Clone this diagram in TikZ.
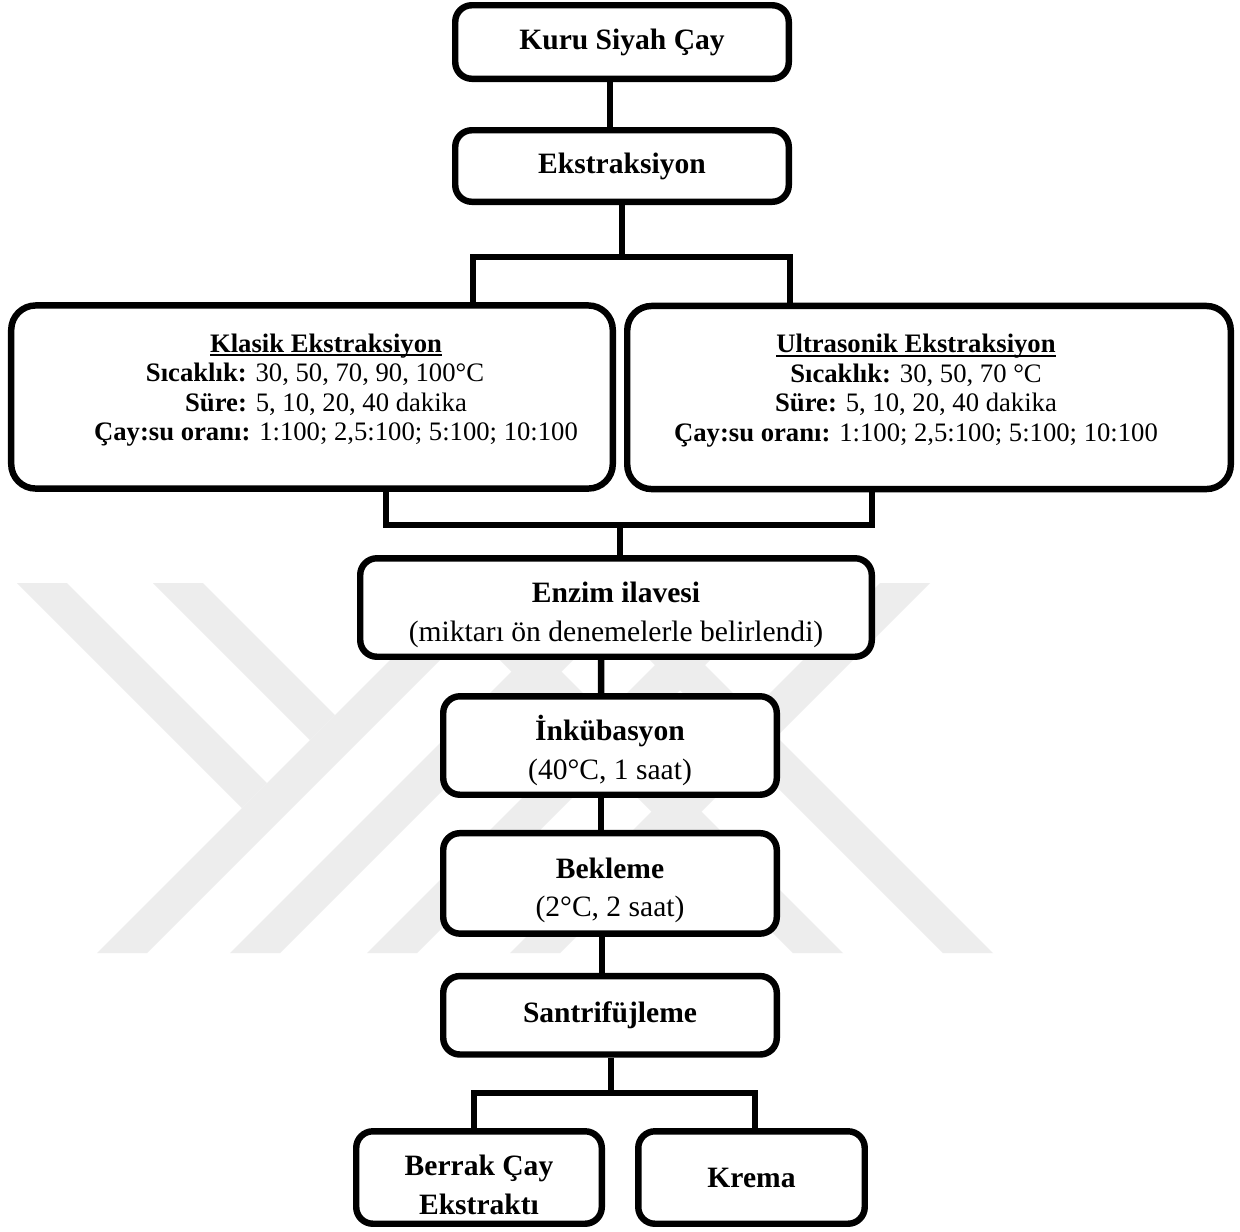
\documentclass[tikz,border=0pt]{standalone}
\usepackage{fontspec}
\setmainfont{Liberation Serif}
\usepackage{tikz}
\usetikzlibrary{positioning}

\newcommand{\stepfont}{\fontsize{13.3pt}{17.5pt}\selectfont\bfseries}
\newcommand{\boxfont}{\fontsize{12pt}{13.3pt}\selectfont}
\newcommand{\titleline}[1]{\setbox0=\hbox{#1}\rlap{\rule[-1.8pt]{\wd0}{0.9pt}}\box0}
\newcommand{\lowstrut}{\rule{0pt}{15.5pt}}

\begin{document}
\begin{tikzpicture}[
    x=0.45pt, y=-0.45pt,
    stepbox/.style={rectangle, draw, fill=white, line width=2.9pt, rounded corners=7.5pt, align=center, font=\stepfont, inner sep=2pt, minimum width=150.1pt},
    bigbox/.style={stepbox, rounded corners=11pt, font=\boxfont, minimum height=82.4pt},
    link/.style={line width=2.9pt},
    wmark/.style={fill=black!7}
]
\useasboundingbox (0,0) rectangle (1240,1231);
\fill[white] (0,0) rectangle (1240,1231);

% watermark
\fill[wmark] (17,583) -- (67,583) -- (267,783) -- (242,808) -- cycle;
\fill[wmark] (153,583) -- (203,583) -- (335,715) -- (310,740) -- cycle;
\fill[wmark] (97,953) -- (147,953) -- (517,583) -- (467,583) -- cycle;
\fill[wmark] (230,953) -- (280,953) -- (650,583) -- (600,583) -- cycle;
\fill[wmark] (367,953) -- (417,953) -- (787,583) -- (737,583) -- cycle;
\fill[wmark] (510,953) -- (560,953) -- (930,583) -- (880,583) -- cycle;
\fill[wmark] (423,583) -- (473,583) -- (843,953) -- (793,953) -- cycle;
\fill[wmark] (573,583) -- (623,583) -- (993,953) -- (943,953) -- cycle;

\node[stepbox, minimum height=33.1pt] (kuru) at (622,42) {Kuru Siyah Çay};
\node[stepbox, minimum height=32.2pt, below=20.25pt of kuru] (ekstr) {Ekstraksiyon};

\node[bigbox, minimum width=270.7pt] (klasik) at (312,397) {\hspace*{12.6pt}\titleline{\textbf{Klasik Ekstraksiyon}}\\
  \hspace*{2.7pt}\textbf{Sıcaklık:} 30, 50, 70, 90, 100°C\\
  \hspace*{12.6pt}\textbf{Süre:} 5, 10, 20, 40 dakika\\
  \hspace*{21.6pt}\textbf{Çay:su oranı:} 1:100; 2,5:100; 5:100; 10:100\\[-4.6pt]\mbox{}};
\node[bigbox, minimum width=271.6pt] (ultra) at (929,397.5) {\hspace*{-11.7pt}\titleline{\textbf{Ultrasonik Ekstraksiyon}}\\
  \hspace*{-11.7pt}\textbf{Sıcaklık:} 30, 50, 70 °C\\
  \hspace*{-11.7pt}\textbf{Süre:} 5, 10, 20, 40 dakika\\
  \hspace*{-11.7pt}\textbf{Çay:su oranı:} 1:100; 2,5:100; 5:100; 10:100\\[-4.6pt]\mbox{}};

\node[stepbox, minimum width=230.2pt, minimum height=44.3pt] (enzim) at (616,607.5) {\lowstrut Enzim ilavesi\\\mdseries(miktarı ön denemelerle belirlendi)};
\node[stepbox, minimum height=44.3pt] (inkub) at (610,745.5) {\lowstrut İnkübasyon\\\mdseries(40°C, 1 saat)};
\node[stepbox, minimum height=45.2pt, below=14.4pt of inkub] (bekleme) {\lowstrut Bekleme\\\mdseries(2°C, 2 saat)};
\node[stepbox, minimum height=35.3pt, below=16.2pt of bekleme] (santri) {Santrifüjleme};

\node[stepbox, minimum width=110.5pt, minimum height=41.6pt] (berrak) at (479,1177.5) {\lowstrut Berrak Çay\\Ekstraktı};
\node[stepbox, minimum width=101.9pt, minimum height=41.6pt] (krema) at (751.5,1177.5) {Krema};

\coordinate (split) at (622,257);
\coordinate (merge) at (620,525);
\coordinate (fork) at (611,1093);

\draw[link] ([xshift=-5.4pt]kuru.south) -- ([xshift=-5.4pt]ekstr.north);
\draw[link] (ekstr) -- (split);
\draw[link] ([xshift=72.5pt]klasik.north) |- (split) -| ([xshift=-62.5pt]ultra.north);
\draw[link] ([xshift=33.3pt]klasik.south) |- (merge) -| ([xshift=-25.7pt]ultra.south);
\draw[link] (merge) -- (merge |- enzim.north);
\draw[link] ([xshift=-6.7pt]enzim.south) -- ([xshift=-4pt]inkub.north);
\draw[link] ([xshift=-4pt]inkub.south) -- ([xshift=-4pt]bekleme.north);
\draw[link] ([xshift=-3.6pt]bekleme.south) -- ([xshift=-3.6pt]santri.north);
\draw[link] (santri.south -| fork) -- (fork);
\draw[link] ([xshift=-2.25pt]berrak.north) |- (fork) -| ([xshift=1.6pt]krema.north);

\end{tikzpicture}
\end{document}
